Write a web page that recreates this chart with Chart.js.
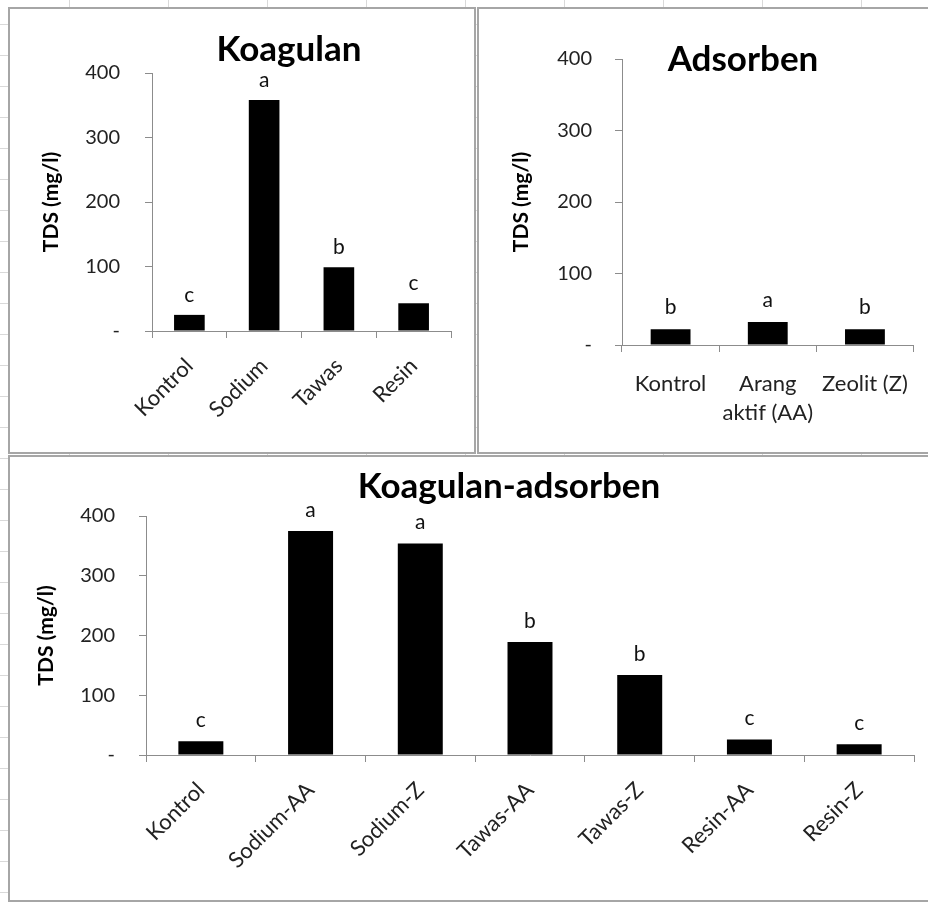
<!DOCTYPE html>
<html><head><meta charset="utf-8">
<script src="https://cdn.jsdelivr.net/npm/chart.js@4.4.1/dist/chart.umd.min.js"></script>
<style>
html,body{margin:0;padding:0;}
body{width:928px;height:902px;overflow:hidden;position:relative;background-color:#fff;
background-image:repeating-linear-gradient(to right, transparent 0 69px, #d9d9d9 69px 70px, transparent 70px 99px),
repeating-linear-gradient(to bottom, transparent 0 24px, #d9d9d9 24px 25px, transparent 25px 31px);}
.panel{position:absolute;background:#fff;border:2px solid #a6a6a6;box-sizing:border-box;}
canvas{position:absolute;}
.ttl{position:absolute;font-family:Lato,sans-serif;font-weight:bold;font-size:35px;color:#000;transform:translate(-50%,-50%);white-space:nowrap;}
</style></head>
<body>
<div class="panel" style="left:8px;top:7px;width:468px;height:447px;"></div>
<div class="panel" style="left:477px;top:7px;width:470px;height:447px;"></div>
<div class="panel" style="left:8px;top:455px;width:940px;height:447px;"></div>
<canvas id="c1" width="462" height="440" style="left:11px;top:10px;width:462px;height:440px;"></canvas>
<canvas id="c2" width="448" height="440" style="left:480px;top:10px;width:448px;height:440px;"></canvas>
<canvas id="c3" width="917" height="442" style="left:11px;top:458px;width:917px;height:442px;"></canvas>
<div class="ttl" style="left:289px;top:47px;">Koagulan</div>
<div class="ttl" style="left:743px;top:57px;">Adsorben</div>
<div class="ttl" style="left:509px;top:484px;">Koagulan-adsorben</div>
<script>
// ---- data ----
const yTicks = [0, 100, 200, 300, 400];
const yTickText = ['-', '100', '200', '300', '400'];
const yTitle = 'TDS (mg/l)';

const koagCategories = ['Kontrol', 'Sodium', 'Tawas', 'Resin'];
const koagValues = [25, 358, 99, 43];
const koagLetters = ['c', 'a', 'b', 'c'];

const adsCategories = ['Kontrol', ['Arang', 'aktif (AA)'], 'Zeolit (Z)'];
const adsValues = [22, 32, 22];
const adsLetters = ['b', 'a', 'b'];

const kaCategories = ['Kontrol', 'Sodium-AA', 'Sodium-Z', 'Tawas-AA', 'Tawas-Z', 'Resin-AA', 'Resin-Z'];
const kaValues = [23, 375, 354, 189, 134, 26, 18];
const kaLetters = ['c', 'a', 'a', 'b', 'b', 'c', 'c'];

// ---- drawing ----
const FONT = 'Lato';
const AXIS = '#8c8c8c';
const TXT = '#222';

function letterPlugin(letters, gap) {
  return {
    id: 'letters',
    afterDatasetsDraw(chart) {
      const meta = chart.getDatasetMeta(0);
      const ctx = chart.ctx;
      ctx.save();
      ctx.font = '21px ' + FONT;
      ctx.fillStyle = '#111';
      ctx.textAlign = 'center';
      ctx.textBaseline = 'middle';
      meta.data.forEach((bar, i) => ctx.fillText(letters[i], bar.x, bar.y - gap));
      ctx.restore();
    }
  };
}

function makeChart(id, labels, values, letters, L) {
  return new Chart(document.getElementById(id), {
    type: 'bar',
    data: { labels: labels, datasets: [{ data: values, backgroundColor: '#000', borderWidth: 0,
      barPercentage: 0.41, categoryPercentage: 1 }] },
    options: {
      responsive: false, animation: false, devicePixelRatio: 1,
      layout: { autoPadding: false, padding: { left: 0, top: L.top, right: L.right, bottom: 0 } },
      plugins: { legend: { display: false }, tooltip: { enabled: false }, title: { display: false } },
      scales: {
        x: {
          offset: true,
          grid: { offset: true, drawOnChartArea: false, drawTicks: true, tickLength: 7, color: AXIS, lineWidth: 1 },
          border: { color: AXIS, width: 1 },
          ticks: { font: { family: FONT, size: 22, lineHeight: L.xLine || 1.2 }, color: TXT,
            maxRotation: L.rot, minRotation: L.rot, padding: L.xPad, autoSkip: false },
          afterFit: a => { a.height = L.xH; }
        },
        y: {
          min: 0, max: 400,
          afterBuildTicks: a => { a.ticks = yTicks.map(v => ({ value: v })); },
          grid: { drawOnChartArea: false, drawTicks: true, tickLength: 7, color: AXIS, lineWidth: 1 },
          border: { color: AXIS, width: 1 },
          ticks: { font: { family: FONT, size: 20 }, color: TXT, padding: L.yPad,
            callback: (v, i) => yTickText[i] },
          title: { display: true, text: yTitle, color: '#000',
            font: { family: FONT, size: 21, weight: 'bold', lineHeight: 1.2 },
            padding: { top: L.tPad, bottom: 0 } },
          afterFit: a => { a.width = L.yW; }
        }
      }
    },
    plugins: [letterPlugin(letters, L.gap)]
  });
}

function draw() {
  makeChart('c1', koagCategories, koagValues, koagLetters,
    { top: 63, right: 22, xH: 119, yW: 141, yPad: 25, tPad: 28, rot: 45, xPad: 15, gap: 20 });
  makeChart('c2', adsCategories, adsValues, adsLetters,
    { top: 49, right: 13, xH: 105, yW: 142, yPad: 23, tPad: 29, rot: 0, xPad: 18, gap: 22, xLine: 1.3 });
  makeChart('c3', kaCategories, kaValues, kaLetters,
    { top: 58, right: 14, xH: 145, yW: 135, yPad: 24, tPad: 23, rot: 45, xPad: 15, gap: 21 });
}

if (document.fonts && document.fonts.load) {
  Promise.all([document.fonts.load('20px Lato'), document.fonts.load('bold 20px Lato')])
    .then(draw, draw);
} else { draw(); }
</script>
</body></html>
